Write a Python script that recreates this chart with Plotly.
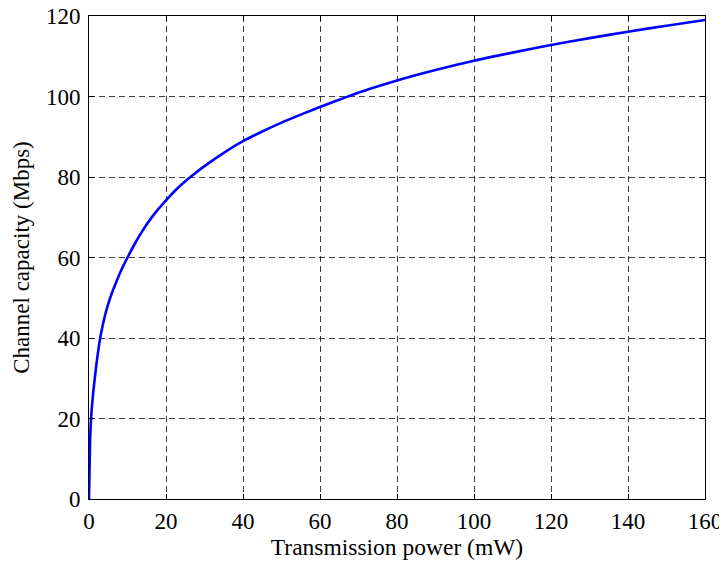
import plotly.graph_objects as go

# Transmission power (mW) and channel capacity (Mbps)
power_mw = [0, 0.25, 0.5, 1.0, 1.5, 2.0, 2.5, 3.0, 4.0, 5.0, 6.0, 7.0, 8.0, 9.0, 10,
            12, 14, 16, 18, 20, 23, 26.5, 30, 35, 40, 45, 50, 55, 60, 67, 73, 80, 90,
            100, 110, 120, 130, 140, 150, 160]
capacity_mbps = [0, 13, 19.5, 25.5, 30, 34, 37.5, 40.5, 45, 48.5, 51.3, 53.7, 56.0, 58.1, 60.0,
                 63.6, 66.8, 69.6, 72.0, 74.2, 77.2, 80.1, 82.7, 86.0, 88.9, 91.3, 93.5, 95.5,
                 97.4, 99.9, 101.9, 104.0, 106.6, 108.9, 110.9, 112.8, 114.5, 116.1, 117.6, 119.0]

x_ticks = [0, 20, 40, 60, 80, 100, 120, 140, 160]
y_ticks = [0, 20, 40, 60, 80, 100, 120]

x_title = "Transmission power (mW)"
y_title = "Channel capacity (Mbps)"

font_family = "Liberation Serif, Times New Roman, serif"

fig = go.Figure()
fig.add_trace(go.Scatter(
    x=power_mw, y=capacity_mbps, mode="lines",
    line=dict(color="#0000FF", width=2.6, shape="spline", smoothing=0.8),
    showlegend=False, hoverinfo="x+y",
))

axis_common = dict(
    showline=True, linecolor="black", linewidth=1, mirror="ticks",
    ticks="inside", ticklen=5, tickcolor="black", tickwidth=1,
    showgrid=True, gridcolor="rgba(0,0,0,0.75)", gridwidth=1, griddash="6px,4px",
    zeroline=False, ticklabeloverflow="allow",
    tickfont=dict(family=font_family, size=23, color="black"),
)

fig.update_xaxes(
    range=[0, 160], tickvals=x_ticks, ticktext=[str(v) for v in x_ticks],
    title=dict(text=x_title, font=dict(family=font_family, size=23.5, color="black"), standoff=3),
    ticklabelstandoff=1,
    **axis_common,
)
fig.update_yaxes(
    range=[0, 120], tickvals=y_ticks, ticktext=[str(v) for v in y_ticks],
    title=dict(text=y_title, font=dict(family=font_family, size=23, color="black"), standoff=9),
    ticklabelstandoff=3,
    **axis_common,
)

# the page body adds an 8px offset, so the figure is shifted accordingly
fig.update_layout(
    width=719, height=557,
    margin=dict(l=81, r=22, t=8, b=66, autoexpand=False),
    paper_bgcolor="white", plot_bgcolor="white",
    font=dict(family=font_family, color="black"),
)

fig.write_html("out.html")
